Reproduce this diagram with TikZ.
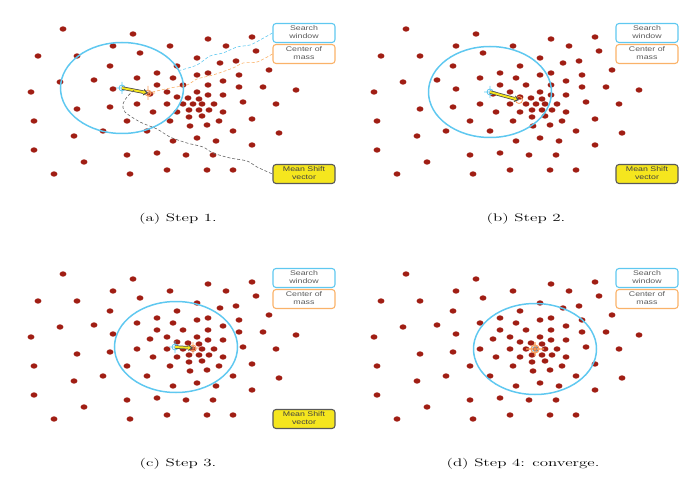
\documentclass[tikz,border=0pt]{standalone}
\usepackage{fontspec}
\usepackage{graphicx}
\newfontfamily\labelfont{Liberation Sans}
\usetikzlibrary{shapes.geometric,arrows.meta}

\definecolor{dotred}{RGB}{160,30,20}
\definecolor{wincyan}{RGB}{95,200,240}
\definecolor{massorange}{RGB}{250,178,105}
\definecolor{shiftyellow}{RGB}{245,230,30}
\definecolor{labelgray}{RGB}{90,90,90}

% sample points, same set in every panel
\newcommand{\dotlist}{63/29, 133/34, 208/39, 252/37, 38/56, 77/56, 113/46, 170/46,
  226/46, 140/53, 256/51, 197/58, 220/63, 236/61, 110/66, 177/66, 269/70,
  157/73, 208/73, 239/75, 60/82, 94/80, 137/78, 173/78, 197/75, 223/81,
  31/92, 113/89, 157/85, 183/85, 208/85, 239/87, 263/87, 296/90, 167/92,
  197/92, 150/94, 177/97, 188/98, 199/99, 208/95, 223/95, 77/109, 110/107,
  137/104, 167/104, 183/104, 193/104, 202/104, 214/104, 243/102, 276/104,
  153/112, 177/112, 189/110, 199/110, 209/110, 223/112, 34/121, 127/121,
  170/121, 189/117, 202/116, 219/121, 252/119, 103/131, 147/131, 190/126,
  207/125, 233/131, 74/136, 173/141, 197/138, 216/141, 279/133, 34/150,
  252/145, 127/155, 157/153, 186/155, 213/155, 84/162, 167/170, 207/170,
  233/170, 54/174, 130/174}
\newcommand{\twoline}[2]{\scalebox{1.3}[1]{\begin{tabular}{@{}c@{}}#1\\#2\end{tabular}}}

\begin{document}
\begin{tikzpicture}[
  x=1bp, y=-1bp,
  window/.style={draw=wincyan, line width=1.5bp, ellipse, minimum width=123bp, minimum height=91bp, inner sep=0pt},
  legend/.style={rounded corners=3bp, line width=1.1bp, minimum width=62bp, minimum height=19bp, inner sep=0pt,
    font=\labelfont\fontsize{6.8}{7.8}\selectfont, text=labelgray},
  searchbox/.style={legend, draw=wincyan},
  massbox/.style={legend, draw=massorange},
  shiftbox/.style={legend, draw=black!65, fill=shiftyellow, text=black!75},
  swring/.style={draw=wincyan, line width=0.8bp},
  cmring/.style={draw=massorange!90!red, line width=0.8bp},
  shaftout/.style={line width=3.4bp, draw=black!70, -{Triangle[length=4.5bp, width=6.5bp]}},
  shaftin/.style={line width=1.9bp, draw=shiftyellow, shorten >=2.2bp, -{Triangle[length=2.6bp, width=4bp]}},
  link/.style={densely dashed, line width=0.6bp},
  caption/.style={font=\fontsize{11}{13}\selectfont}
]
\useasboundingbox (0,0) rectangle (695,488);

% (a) step 1
\begin{scope}
\foreach \px/\py in \dotlist {\fill[dotred] (\px,\py) ellipse[x radius=3.4bp, y radius=2.7bp];}
\node[window] (winA) at (122,88) {};
\coordinate (swA) at (122,88);
\coordinate (cmA) at (148,93);
\coordinate (mvA) at (134,90);
\draw[swring] (swA) circle[radius=3bp] +(-6,0) -- +(6,0) +(0,-6) -- +(0,6);
\draw[cmring] (cmA) circle[radius=3bp] +(-7,0) -- +(7,0) +(0,-7) -- +(0,7);
\draw[shaftout] (swA) -- (cmA);
\draw[shaftin] (swA) -- (cmA);
\node[searchbox] (searchA) at (304,33) {\twoline{Search}{window}};
\node[massbox] (massA) at (304,54) {\twoline{Center of}{mass}};
\node[shiftbox] (shiftA) at (304,174) {\twoline{Mean Shift}{vector}};
\draw[link, wincyan] plot[smooth] coordinates {(searchA.west) (260,40) (250,45) (237,47) (223,53) (210,56) (197,65) (winA.17)};
\draw[link, massorange] plot[smooth] coordinates {(massA.west) (257,62) (243,63) (233,68) (213,75) (197,79) (187,85) (170,88) (cmA)};
\draw[link, black!60] plot[smooth] coordinates {(mvA) (127,97) (123,104) (125,112) (140,122) (157,129) (170,137) (187,143) (203,147) (213,153) (230,158) (247,161) (257,167) (shiftA.west)};
\node[caption] (capA) at (178,219) {\scalebox{1.55}[1]{(a) Step 1.}};
\end{scope}

% (b) step 2
\begin{scope}[shift={(343,0)}]
\foreach \px/\py in \dotlist {\fill[dotred] (\px,\py) ellipse[x radius=3.4bp, y radius=2.7bp];}
\node[window] (winB) at (147,92) {};
\coordinate (swB) at (147,92);
\coordinate (cmB) at (176,100);
\draw[swring] (swB) circle[radius=3bp] +(-6,0) -- +(6,0) +(0,-6) -- +(0,6);
\draw[cmring] (cmB) circle[radius=3.5bp];
\draw[shaftout] (swB) -- (cmB);
\draw[shaftin] (swB) -- (cmB);
\node[searchbox] (searchB) at (304,33) {\twoline{Search}{window}};
\node[massbox] (massB) at (304,54) {\twoline{Center of}{mass}};
\node[shiftbox] (shiftB) at (304,174) {\twoline{Mean Shift}{vector}};
\node[caption] (capB) at (183,219) {\scalebox{1.55}[1]{(b) Step 2.}};
\end{scope}

% (c) step 3
\begin{scope}[shift={(0,245)}]
\foreach \px/\py in \dotlist {\fill[dotred] (\px,\py) ellipse[x radius=3.4bp, y radius=2.7bp];}
\node[window] (winC) at (176,102) {};
\coordinate (swC) at (175,102);
\coordinate (cmC) at (193,103);
\draw[swring] (swC) circle[radius=3bp] +(-6,0) -- +(6,0) +(0,-6) -- +(0,6);
\draw[cmring] (cmC) circle[radius=3bp] +(-6,0) -- +(6,0) +(0,-6) -- +(0,6);
\draw[shaftout] (swC) -- (cmC);
\draw[shaftin] (swC) -- (cmC);
\node[searchbox] (searchC) at (304,33) {\twoline{Search}{window}};
\node[massbox] (massC) at (304,54) {\twoline{Center of}{mass}};
\node[shiftbox] (shiftC) at (304,174) {\twoline{Mean Shift}{vector}};
\node[caption] (capC) at (178,219) {\scalebox{1.55}[1]{(c) Step 3.}};
\end{scope}

% (d) step 4: converge
\begin{scope}[shift={(343,245)}]
\foreach \px/\py in \dotlist {\fill[dotred] (\px,\py) ellipse[x radius=3.4bp, y radius=2.7bp];}
\node[window] (winD) at (192,104) {};
\coordinate (cmD) at (192,104);
\draw[swring] (cmD) circle[radius=2.5bp];
\draw[cmring, line width=1.2bp] (cmD) circle[radius=4bp] +(-9,0) -- +(9,0) +(0,-7) -- +(0,7);
\node[searchbox] (searchD) at (304,33) {\twoline{Search}{window}};
\node[massbox] (massD) at (304,54) {\twoline{Center of}{mass}};
\node[caption] (capD) at (180,219) {\scalebox{1.55}[1]{(d) Step 4: converge.}};
\end{scope}
\end{tikzpicture}
\end{document}
